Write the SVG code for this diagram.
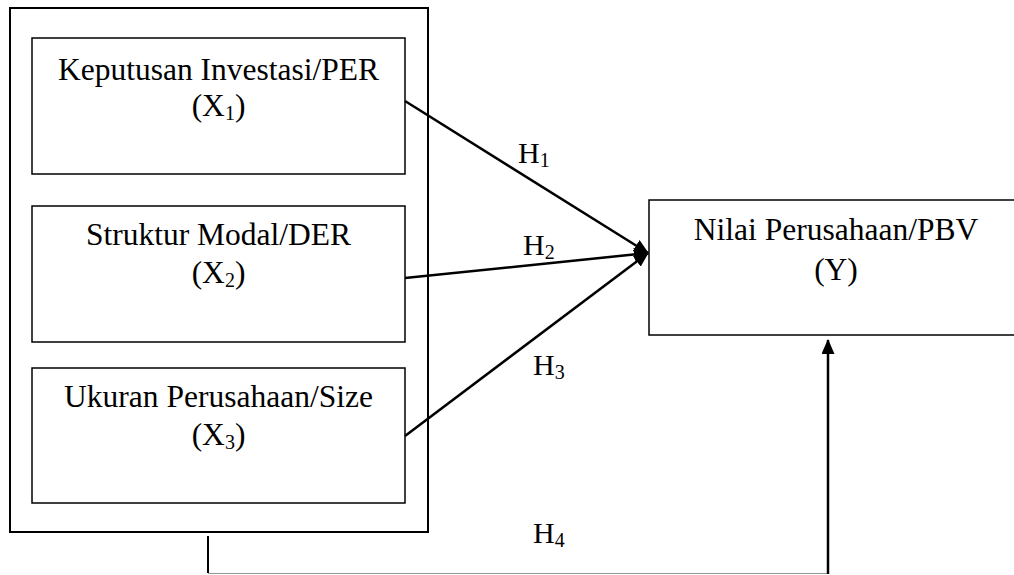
<svg xmlns="http://www.w3.org/2000/svg" width="1014" height="575" viewBox="0 0 1014 575">
<style>
.box{fill:none;stroke:#000;stroke-width:1.5}
.outer{fill:none;stroke:#000;stroke-width:2}
.t{font-family:"Liberation Serif","Times New Roman",serif;font-size:31.5px;fill:#000;text-anchor:middle}
.h{font-family:"Liberation Serif","Times New Roman",serif;font-size:30px;fill:#000}
.sub{font-size:20px}
.c{fill:none;stroke:#000;stroke-width:2.5}
</style>
<defs>
<marker id="ah" markerWidth="15" markerHeight="13" refX="14" refY="6.5" orient="auto" markerUnits="userSpaceOnUse">
<path d="M0,0 L15,6.5 L0,13 Z" fill="#000"/>
</marker>
</defs>
<g id="outer-group"><rect class="outer" x="10" y="8" width="418" height="524"/></g>
<g id="x1">
<rect class="box" x="32" y="38" width="373" height="136"/>
<text class="t" x="218.5" y="80">Keputusan Investasi/PER</text>
<text class="t" x="218.5" y="116">(X<tspan class="sub" dy="4">1</tspan><tspan dy="-4">)</tspan></text>
</g>
<g id="x2">
<rect class="box" x="32" y="206" width="373" height="136"/>
<text class="t" x="218.5" y="245">Struktur Modal/DER</text>
<text class="t" x="218.5" y="283">(X<tspan class="sub" dy="4">2</tspan><tspan dy="-4">)</tspan></text>
</g>
<g id="x3">
<rect class="box" x="32" y="368" width="373" height="135"/>
<text class="t" x="218.5" y="407">Ukuran Perusahaan/Size</text>
<text class="t" x="218.5" y="445">(X<tspan class="sub" dy="4">3</tspan><tspan dy="-4">)</tspan></text>
</g>
<g id="y">
<rect class="box" x="649" y="200" width="374" height="135"/>
<text class="t" x="836" y="240">Nilai Perusahaan/PBV</text>
<text class="t" x="836" y="280">(Y)</text>
</g>
<g id="connectors">
<line class="c" x1="405" y1="101" x2="648" y2="253" marker-end="url(#ah)"/>
<line class="c" x1="405" y1="278" x2="648" y2="253" marker-end="url(#ah)"/>
<line class="c" x1="405" y1="436" x2="648" y2="253" marker-end="url(#ah)"/>
<polyline fill="none" stroke="#000" stroke-width="2" points="208,536 208,573"/>
<line x1="208" y1="573.5" x2="828" y2="573.5" stroke="#999" stroke-width="1"/>
<line class="c" x1="828" y1="574" x2="828" y2="340" marker-end="url(#ah)"/>
<text class="h" x="518" y="163">H<tspan class="sub" dy="4">1</tspan></text>
<text class="h" x="523" y="255">H<tspan class="sub" dy="4">2</tspan></text>
<text class="h" x="533" y="375">H<tspan class="sub" dy="4">3</tspan></text>
<text class="h" x="533" y="543">H<tspan class="sub" dy="4">4</tspan></text>
</g>
</svg>
